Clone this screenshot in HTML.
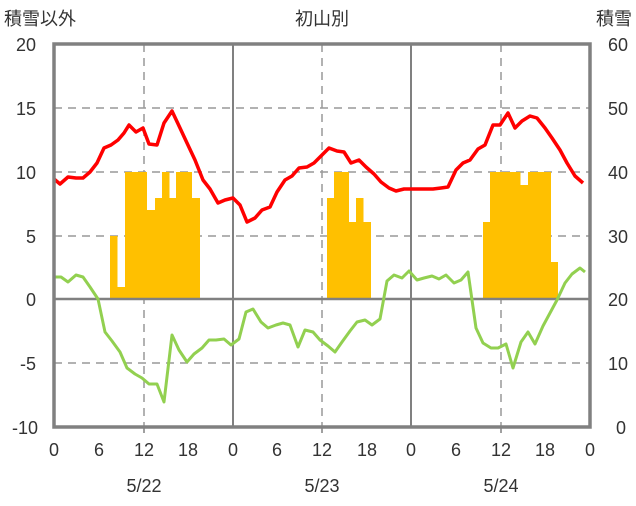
<!DOCTYPE html>
<html><head><meta charset="utf-8"><style>
body{margin:0;background:#fff;}
svg text{font-family:"Liberation Sans","Noto Sans CJK JP",sans-serif;fill:#333;}
</style></head><body>
<svg width="636" height="501" viewBox="0 0 636 501" xmlns="http://www.w3.org/2000/svg">
<rect width="636" height="501" fill="#fff"/>
<g stroke="#999" stroke-width="1.5" stroke-dasharray="8,6">
<line x1="54" y1="108" x2="590" y2="108"/>
<line x1="54" y1="172" x2="590" y2="172"/>
<line x1="54" y1="236" x2="590" y2="236"/>
<line x1="54" y1="363" x2="590" y2="363"/>
<line x1="144" y1="44" x2="144" y2="427"/>
<line x1="322" y1="44" x2="322" y2="427"/>
<line x1="501" y1="44" x2="501" y2="427"/>
</g>
<g fill="#FFC000">
<rect x="110" y="236" width="7.5" height="63"/>
<rect x="117" y="287" width="8" height="12"/>
<rect x="125" y="172" width="22" height="127"/>
<rect x="147" y="210" width="8" height="89"/>
<rect x="155" y="198" width="7.5" height="101"/>
<rect x="162" y="172" width="7.5" height="127"/>
<rect x="169" y="198" width="7.5" height="101"/>
<rect x="176" y="172" width="16" height="127"/>
<rect x="192" y="198" width="8" height="101"/>
<rect x="327" y="198" width="7.5" height="101"/>
<rect x="334" y="172" width="15" height="127"/>
<rect x="349" y="222" width="7.5" height="77"/>
<rect x="356" y="198" width="7.5" height="101"/>
<rect x="363" y="222" width="8" height="77"/>
<rect x="483" y="222" width="7.5" height="77"/>
<rect x="490" y="172" width="30.5" height="127"/>
<rect x="520.5" y="185" width="7.5" height="114"/>
<rect x="528" y="172" width="23" height="127"/>
<rect x="551" y="262" width="7" height="37"/>
</g>
<line x1="54" y1="299" x2="590" y2="299" stroke="#808080" stroke-width="2.5"/>
<line x1="233" y1="44" x2="233" y2="427" stroke="#808080" stroke-width="2"/>
<line x1="411" y1="44" x2="411" y2="427" stroke="#808080" stroke-width="2"/>
<polyline fill="none" stroke="#FF0000" stroke-width="3.5" stroke-linejoin="round" points="54,179 60,184 68,177 76,178 83,178 90,172 97,163 104,148 111,145 118,140 124,133 129,125 136,132 143,128 149,144 157,145 164,123 172,111 180,128 187,143 195,160 203,180 210,189 218,203 225,200 233,198 240,205 247,222 255,218 262,210 270,207 277,192 285,180 292,176 299,168 307,167 314,163 322,155 329,148 337,151 344,152 351,163 359,160 366,167 374,174 381,182 389,188 396,191 404,189 411,189 419,189 426,189 433,189 441,188 448,187 456,170 463,163 470,160 478,149 485,145 493,125 500,125 508,113 515,128 522,121 530,116 537,118 545,128 552,138 560,150 567,163 575,176 583,183"/>
<polyline fill="none" stroke="#92D050" stroke-width="3" stroke-linejoin="round" points="54,277 61,277 68,282 76,275 83,277 90,287 98,299 105,332 112,341 120,352 127,368 135,374 142,378 149,384 157,384 164,402 172,335 179,350 187,362 194,354 202,348 209,340 216,340 224,339 231,345 239,339 246,312 253,309 261,322 268,328 276,325 283,323 290,325 298,347 305,330 313,332 320,340 328,346 335,352 342,342 350,331 357,322 365,320 372,325 380,319 387,281 394,275 402,278 409,271 417,280 424,278 432,276 439,279 446,275 454,283 461,280 468,272 476,328 483,343 491,348 498,348 506,344 513,368 521,342 528,332 535,344 543,326 550,313 557,300 565,283 572,274 580,268 585,272"/>
<rect x="54" y="44" width="536" height="383" fill="none" stroke="#808080" stroke-width="3.5"/>
<g stroke="#808080" stroke-width="1.5">
<line x1="144" y1="427" x2="144" y2="433"/><line x1="322" y1="427" x2="322" y2="433"/><line x1="501" y1="427" x2="501" y2="433"/>
</g>
<g font-size="18" text-anchor="end">
<text x="36" y="51">20</text><text x="36" y="115">15</text><text x="36" y="179">10</text><text x="36" y="243">5</text><text x="36" y="306">0</text><text x="36" y="370">-5</text><text x="38" y="434">-10</text>
</g>
<g font-size="18" text-anchor="start">
<text x="608" y="51">60</text><text x="608" y="115">50</text><text x="608" y="179">40</text><text x="608" y="243">30</text><text x="608" y="306">20</text><text x="608" y="370">10</text><text x="616" y="434">0</text>
</g>
<g font-size="18" text-anchor="middle">
<text x="54" y="456">0</text><text x="99" y="456">6</text><text x="144" y="456">12</text><text x="188" y="456">18</text>
<text x="233" y="456">0</text><text x="277" y="456">6</text><text x="322" y="456">12</text><text x="367" y="456">18</text>
<text x="411" y="456">0</text><text x="456" y="456">6</text><text x="501" y="456">12</text><text x="545" y="456">18</text>
<text x="590" y="456">0</text>
<text x="144" y="492">5/22</text><text x="322" y="492">5/23</text><text x="501" y="492">5/24</text>
<text x="322" y="25">初山別</text>
</g>
<text x="4" y="25" font-size="18">積雪以外</text>
<text x="632" y="25" font-size="18" text-anchor="end">積雪</text>
</svg>
</body></html>
